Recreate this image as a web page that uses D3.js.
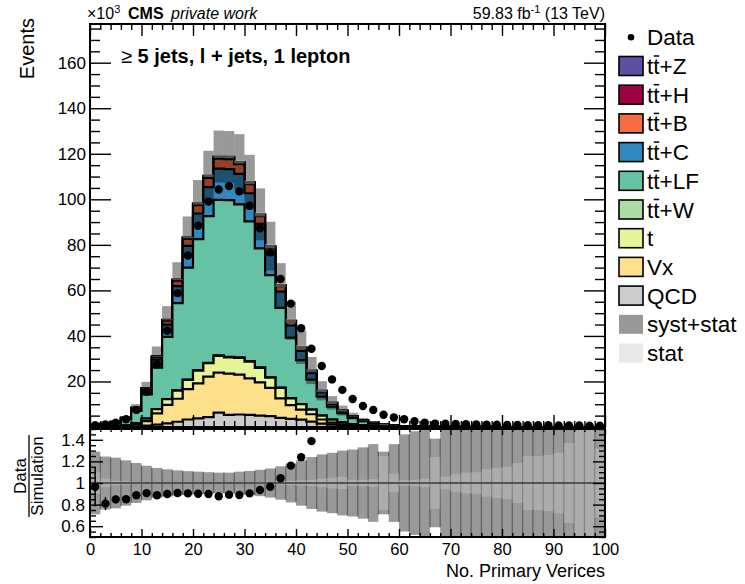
<!DOCTYPE html>
<html>
<head>
<meta charset="utf-8">
<script src="https://cdn.jsdelivr.net/npm/d3@7"></script>
<style>
  body { margin: 0; background: #fff; }
  svg { display: block; font-family: "Liberation Sans", Arial, sans-serif; }
</style>
</head>
<body>
<div id="pvPlot"></div>
<script>
// bins: 0-2, 2-4, ... 98-100 (50 bins), values in units of 10^3 events
const binEdges = d3.range(0, 101, 2);

const qcd  = [0.02,0.03,0.06,0.12,0.3,0.6,1.0,1.6,2.3,3.3,3.8,4.3,6.3,5.3,5.5,5.3,5.0,4.8,4.0,3.6,3.2,2.4,1.5,1.0,0.7,0.4,0.25,0.15,0.1,0.06,0.04,0.03,0.02,0.01,0.006,0,0,0,0,0,0,0,0,0,0,0,0,0,0,0];
const vx   = [0.04,0.07,0.16,0.33,0.8,2.0,5.0,8.1,10.1,13.3,15.4,17.8,17.6,18.1,17.5,16.1,14.6,12.4,8.6,6.0,4.4,3.2,1.8,0.9,0.5,0.4,0.25,0.15,0.08,0.05,0.03,0.02,0.01,0.008,0.005,0,0,0,0,0,0,0,0,0,0,0,0,0,0,0];
const tSingle = [0.03,0.06,0.11,0.23,0.5,1.1,1.8,2.5,3.6,4.1,5.6,5.9,7.3,7.2,7.4,7.3,6.4,4.5,4.6,3.0,2.4,2.0,1.7,1.3,0.8,0.5,0.3,0.2,0.12,0.07,0.04,0.02,0.015,0.01,0.006,0,0,0,0,0,0,0,0,0,0,0,0,0,0,0];
const ttW  = [0,0,0,0.01,0.02,0.03,0.06,0.09,0.13,0.17,0.2,0.22,0.24,0.24,0.23,0.22,0.19,0.16,0.12,0.09,0.07,0.05,0.03,0.02,0.01,0.01,0.005,0.003,0.002,0.001,0,0,0,0,0,0,0,0,0,0,0,0,0,0,0,0,0,0,0,0];
const ttLF = [0.61,0.98,1.55,2.67,5.49,10.63,18.18,27.27,38.3,49.11,57.49,64.43,68.35,68.79,67.14,61.39,52.27,44.84,35.01,26.53,19.33,13.18,8.32,5.68,4.03,2.72,1.71,1.01,0.54,0.32,0.21,0.14,0.09,0.066,0.045,0.035,0.025,0.018,0.012,0.008,0.006,0.004,0.003,0.002,0.0015,0.001,0.001,0.0008,0.0006,0.0005];
const ttC  = [0.10,0.16,0.26,0.46,0.97,1.97,3.57,5.42,7.45,9.58,11.29,12.68,13.66,13.64,13.39,12.36,10.74,9.13,7.16,5.37,4.03,2.85,1.83,1.22,0.83,0.55,0.35,0.21,0.12,0.07,0.044,0.029,0.018,0.013,0.008,0.006,0.004,0.003,0.002,0.0015,0.001,0.0007,0.0005,0.0004,0.0003,0.0002,0.0002,0.0001,0.0001,0.0001];
const ttB  = [0.03,0.05,0.08,0.15,0.31,0.63,1.15,1.74,2.40,3.08,3.63,4.08,4.40,4.39,4.31,3.98,3.46,2.94,2.31,1.73,1.30,0.92,0.59,0.39,0.27,0.18,0.11,0.07,0.04,0.02,0.014,0.009,0.006,0.004,0.003,0.002,0.001,0.001,0.001,0,0,0,0,0,0,0,0,0,0,0];
const ttH  = [0,0.01,0.01,0.02,0.04,0.09,0.16,0.24,0.32,0.42,0.49,0.55,0.59,0.59,0.58,0.54,0.47,0.40,0.31,0.23,0.18,0.12,0.08,0.05,0.04,0.02,0.015,0.01,0.005,0.003,0,0,0,0,0,0,0,0,0,0,0,0,0,0,0,0,0,0,0,0];
const ttZ  = [0,0,0.01,0.01,0.03,0.05,0.09,0.14,0.19,0.25,0.29,0.33,0.36,0.36,0.35,0.32,0.28,0.24,0.19,0.14,0.11,0.07,0.05,0.03,0.02,0.01,0.01,0.005,0.003,0.002,0,0,0,0,0,0,0,0,0,0,0,0,0,0,0,0,0,0,0,0];

const dataCounts = [0.8,1.1,1.9,3.4,7.5,15.5,27.5,42.3,58.8,75.3,88.4,99.0,104.3,105.8,103.5,97.2,87.3,76.7,65.0,54.2,43.4,34.4,26.8,20.9,16.3,12.3,9.2,7.5,5.4,4.2,3.4,2.5,1.9,1.5,1.4,1.3,1.2,1.1,1.0,1.0,0.9,0.9,0.8,0.8,0.8,0.7,0.7,0.7,0.6,0.6];
const ratioErr = [0.18,0.06,0.035,0.025,0.015,0.01,0.008,0.007,0.006,0.005,0.005,0.005,0.005,0.005,0.005,0.005,0.005,0.006,0.008,0.01,0.015,0.02,0.03,0.04,0.05,0.06,0.07,0.08,0.1,0.1,0.1,0.1,0.1,0.1,0.1,0.1,0.1,0.1,0.1,0.1,0.1,0.1,0.1,0.1,0.1,0.1,0.1,0.1,0.1,0.1];

// relative uncertainties of the prediction
const systStatRel = [0.29,0.245,0.235,0.21,0.185,0.16,0.14,0.127,0.117,0.11,0.105,0.10,0.096,0.096,0.105,0.112,0.122,0.135,0.155,0.18,0.21,0.24,0.265,0.28,0.30,0.31,0.33,0.36,0.29,0.36,0.45,0.48,0.55,0.41,0.6,0.6,0.6,0.6,0.6,0.6,0.6,0.6,0.6,0.6,0.6,0.6,0.6,0.6,0.6,0.6];
const statRel = [0.10,0.04,0.02,0.015,0.01,0.008,0.006,0.005,0.005,0.005,0.005,0.005,0.005,0.005,0.006,0.008,0.01,0.012,0.015,0.02,0.025,0.03,0.04,0.05,0.056,0.03,0.03,0.035,0.25,0.086,0.025,0.03,0.04,0.24,0.06,0.08,0.096,0.10,0.127,0.14,0.15,0.185,0.25,0.25,0.26,0.28,0.37,0.6,0.6,0.32];

const samples = [
  { name: "QCD",   values: qcd,     color: "#cccccc" },
  { name: "Vx",    values: vx,      color: "#fee08b" },
  { name: "t",     values: tSingle, color: "#e6f598" },
  { name: "tt+W",  values: ttW,     color: "#abdda4" },
  { name: "tt+LF", values: ttLF,    color: "#66c2a5" },
  { name: "tt+C",  values: ttC,     color: "#3288bd" },
  { name: "tt+B",  values: ttB,     color: "#f46d43" },
  { name: "tt+H",  values: ttH,     color: "#9e0142" },
  { name: "tt+Z",  values: ttZ,     color: "#5e4fa2" }
];

class PrimaryVertexPlot {
  constructor() {
    this.width = 745;
    this.height = 584;
    this.left = 90;
    this.right = 605;
    this.mainTop = 24;
    this.mainBottom = 427;
    this.ratioTop = 429;
    this.ratioBottom = 537;
  }

  createVisualization() {
    const svg = d3.select("#pvPlot")
      .append("svg")
      .attr("width", this.width)
      .attr("height", this.height);
    this.svg = svg;

    const x = d3.scaleLinear().domain([0, 100]).range([this.left, this.right]);
    const y = d3.scaleLinear().domain([0, 177]).range([this.mainBottom, this.mainTop]);
    const yr = d3.scaleLinear().domain([0.5, 1.5]).range([this.ratioBottom, this.ratioTop]);

    const defs = svg.append("defs");
    defs.append("clipPath").attr("id", "clipMain").append("rect")
      .attr("x", this.left).attr("y", this.mainTop)
      .attr("width", this.right - this.left).attr("height", this.mainBottom - this.mainTop);
    defs.append("clipPath").attr("id", "clipRatio").append("rect")
      .attr("x", this.left).attr("y", this.ratioTop)
      .attr("width", this.right - this.left).attr("height", this.ratioBottom - this.ratioTop);

    // cumulative stack
    const nBins = dataCounts.length;
    let running = new Array(nBins).fill(0);
    const cumulative = samples.map(s => {
      running = running.map((v, i) => v + s.values[i]);
      return { ...s, top: running.slice() };
    });
    const total = running;

    const main = svg.append("g").attr("clip-path", "url(#clipMain)");
    const area = d3.area()
      .x(d => x(d.x))
      .y0(y(0))
      .y1(d => y(d.v))
      .curve(d3.curveStepAfter);

    // biggest first, so every lower layer is painted on top
    cumulative.slice().reverse().forEach(layer => {
      const pts = layer.top.map((v, i) => ({ x: binEdges[i], v }));
      pts.push({ x: 100, v: layer.top[nBins - 1] });
      main.append("path")
        .datum(pts)
        .attr("d", area)
        .attr("fill", layer.color)
        .attr("stroke", "#000")
        .attr("stroke-width", 2.2)
        .attr("stroke-linejoin", "miter");
    });

    // uncertainty band on the prediction
    const bins = total.map((t, i) => ({ i, t, lo: binEdges[i], hi: binEdges[i + 1] }));
    main.selectAll("rect.syst").data(bins).enter().append("rect")
      .attr("class", "syst")
      .attr("x", d => x(d.lo)).attr("width", d => x(d.hi) - x(d.lo))
      .attr("y", d => y(d.t * (1 + systStatRel[d.i])))
      .attr("height", d => y(d.t * (1 - systStatRel[d.i])) - y(d.t * (1 + systStatRel[d.i])))
      .attr("fill", "rgba(0,0,0,0.4)");
    main.selectAll("rect.stat").data(bins).enter().append("rect")
      .attr("class", "stat")
      .attr("x", d => x(d.lo)).attr("width", d => x(d.hi) - x(d.lo))
      .attr("y", d => y(d.t * (1 + statRel[d.i])))
      .attr("height", d => y(d.t * (1 - statRel[d.i])) - y(d.t * (1 + statRel[d.i])))
      .attr("fill", "rgba(200,200,200,0.4)");

    main.selectAll("circle.data").data(dataCounts).enter().append("circle")
      .attr("class", "data")
      .attr("cx", (d, i) => x(binEdges[i] + 1))
      .attr("cy", d => y(d))
      .attr("r", 4.2)
      .attr("fill", "#000");

    // ratio panel
    const ratio = svg.append("g").attr("clip-path", "url(#clipRatio)");
    ratio.selectAll("rect.syst").data(bins).enter().append("rect")
      .attr("x", d => x(d.lo)).attr("width", d => x(d.hi) - x(d.lo))
      .attr("y", d => yr(1 + systStatRel[d.i]))
      .attr("height", d => yr(1 - systStatRel[d.i]) - yr(1 + systStatRel[d.i]))
      .attr("fill", "rgba(0,0,0,0.4)");
    ratio.selectAll("line.edge").data(bins.slice(1)).enter().append("line")
      .attr("x1", d => x(d.lo)).attr("x2", d => x(d.lo))
      .attr("y1", d => yr(1 + Math.min(systStatRel[d.i], systStatRel[d.i - 1])))
      .attr("y2", d => yr(1 - Math.min(systStatRel[d.i], systStatRel[d.i - 1])))
      .attr("stroke", "rgba(40,40,40,0.55)")
      .attr("stroke-width", 1.2);
    ratio.selectAll("rect.stat").data(bins).enter().append("rect")
      .attr("x", d => x(d.lo)).attr("width", d => x(d.hi) - x(d.lo))
      .attr("y", d => yr(1 + statRel[d.i]))
      .attr("height", d => yr(1 - statRel[d.i]) - yr(1 + statRel[d.i]))
      .attr("fill", "rgba(200,200,200,0.4)");
    ratio.append("line")
      .attr("x1", this.left).attr("x2", this.right)
      .attr("y1", yr(1)).attr("y2", yr(1))
      .attr("stroke", "#3a3a3a").attr("stroke-width", 1.6);

    const ratioPts = dataCounts.map((d, i) => ({ i, r: d / total[i], e: ratioErr[i] }))
      .filter(p => p.r < 1.5 && p.r > 0.5);
    ratio.selectAll("line.err").data(ratioPts).enter().append("line")
      .attr("x1", d => x(binEdges[d.i] + 1)).attr("x2", d => x(binEdges[d.i] + 1))
      .attr("y1", d => yr(d.r - d.e)).attr("y2", d => yr(d.r + d.e))
      .attr("stroke", "#000").attr("stroke-width", 1.5);
    ratio.selectAll("circle").data(ratioPts).enter().append("circle")
      .attr("cx", d => x(binEdges[d.i] + 1))
      .attr("cy", d => yr(d.r))
      .attr("r", 4.2)
      .attr("fill", "#000");

    this.drawAxes(x, y, yr);
    this.drawTexts();
    this.drawLegend();
  }

  tickAxis(axis, transform, fontSize) {
    const g = this.svg.append("g")
      .attr("transform", transform)
      .call(axis);
    g.select(".domain").remove();
    g.selectAll(".tick line").attr("stroke", "#000").attr("stroke-width", 1.4);
    g.selectAll("text")
      .attr("fill", "#000")
      .style("font-size", fontSize + "px")
      .style("font-family", '"Liberation Sans", Arial, sans-serif');
    return g;
  }

  drawAxes(x, y, yr) {
    const xMajor = d3.range(0, 101, 10);
    const xMinor = d3.range(0, 101, 2).filter(v => v % 10 !== 0);
    const yMajor = d3.range(20, 161, 20);
    const yMinor = d3.range(5, 177, 5).filter(v => v % 20 !== 0);
    const rMajor = [0.6, 0.8, 1.0, 1.2, 1.4];
    const rMinor = d3.range(0.5, 1.501, 0.05).filter(v => !rMajor.some(m => Math.abs(m - v) < 1e-6));
    const none = () => "";

    // main pad
    this.tickAxis(d3.axisLeft(y).tickValues(yMajor).tickSize(-21).tickPadding(4).tickFormat(d3.format("d")),
      `translate(${this.left},0)`, 17);
    this.tickAxis(d3.axisLeft(y).tickValues(yMinor).tickSize(-10).tickFormat(none), `translate(${this.left},0)`, 10);
    this.tickAxis(d3.axisRight(y).tickValues(yMajor).tickSize(-21).tickFormat(none), `translate(${this.right},0)`, 10);
    this.tickAxis(d3.axisRight(y).tickValues(yMinor).tickSize(-10).tickFormat(none), `translate(${this.right},0)`, 10);
    this.tickAxis(d3.axisTop(x).tickValues(xMajor).tickSize(-12).tickFormat(none), `translate(0,${this.mainTop})`, 10);
    this.tickAxis(d3.axisTop(x).tickValues(xMinor).tickSize(-6).tickFormat(none), `translate(0,${this.mainTop})`, 10);
    this.tickAxis(d3.axisBottom(x).tickValues(xMajor).tickSize(-12).tickFormat(none), `translate(0,${this.mainBottom})`, 10);
    this.tickAxis(d3.axisBottom(x).tickValues(xMinor).tickSize(-6).tickFormat(none), `translate(0,${this.mainBottom})`, 10);

    // ratio pad
    this.tickAxis(d3.axisLeft(yr).tickValues(rMajor).tickSize(-13).tickPadding(5)
      .tickFormat(d => Math.abs(d - 1) < 1e-6 ? "1" : d3.format(".1f")(d)), `translate(${this.left},0)`, 17);
    this.tickAxis(d3.axisLeft(yr).tickValues(rMinor).tickSize(-6).tickFormat(none), `translate(${this.left},0)`, 10);
    this.tickAxis(d3.axisRight(yr).tickValues(rMajor).tickSize(-12).tickFormat(none), `translate(${this.right},0)`, 10);
    this.tickAxis(d3.axisRight(yr).tickValues(rMinor).tickSize(-6).tickFormat(none), `translate(${this.right},0)`, 10);
    this.tickAxis(d3.axisBottom(x).tickValues(xMajor).tickSize(-8).tickPadding(6).tickFormat(d3.format("d")),
      `translate(0,${this.ratioBottom})`, 16.5);
    this.tickAxis(d3.axisBottom(x).tickValues(xMinor).tickSize(-4).tickFormat(none), `translate(0,${this.ratioBottom})`, 10);
    this.tickAxis(d3.axisTop(x).tickValues(xMajor).tickSize(-6).tickFormat(none), `translate(0,${this.ratioTop})`, 10);
    this.tickAxis(d3.axisTop(x).tickValues(xMinor).tickSize(-3).tickFormat(none), `translate(0,${this.ratioTop})`, 10);

    // frames
    [[this.mainTop, this.mainBottom], [this.ratioTop, this.ratioBottom]].forEach(([t, b]) => {
      this.svg.append("rect")
        .attr("x", this.left).attr("y", t)
        .attr("width", this.right - this.left).attr("height", b - t)
        .attr("fill", "none").attr("stroke", "#000").attr("stroke-width", 2);
    });
  }

  drawTexts() {
    const svg = this.svg;

    const e = svg.append("text").attr("x", 87).attr("y", 19).style("font-size", "16px");
    e.append("tspan").text("×10");
    e.append("tspan").attr("dy", -6).style("font-size", "11px").text("3");

    svg.append("text").attr("x", 128).attr("y", 19)
      .style("font-size", "16px").style("font-weight", "bold").text("CMS");
    svg.append("text").attr("x", 171).attr("y", 19)
      .style("font-size", "16px").style("font-style", "italic").text("private work");

    const lumi = svg.append("text").attr("x", 605).attr("y", 19)
      .attr("text-anchor", "end").style("font-size", "16px");
    lumi.append("tspan").text("59.83 fb");
    lumi.append("tspan").attr("dy", -6).style("font-size", "11px").text("-1");
    lumi.append("tspan").attr("dy", 6).text(" (13 TeV)");

    const sel = svg.append("text").attr("x", 121).attr("y", 63)
      .style("font-size", "20px").style("font-weight", "bold");
    sel.append("tspan").style("font-weight", "normal").text("≥ ");
    sel.append("tspan").text("5 jets, l + jets, 1 lepton");

    svg.append("text")
      .attr("transform", "translate(34,18) rotate(-90)")
      .attr("text-anchor", "end")
      .style("font-size", "20px")
      .text("Events");

    const rl = svg.append("g").attr("transform", "translate(29,476) rotate(-90)");
    rl.append("text").attr("x", 0).attr("y", -3).attr("text-anchor", "middle")
      .style("font-size", "17px").text("Data");
    rl.append("line").attr("x1", -41).attr("x2", 41).attr("y1", 0).attr("y2", 0)
      .attr("stroke", "#000").attr("stroke-width", 1.3);
    rl.append("text").attr("x", 0).attr("y", 14).attr("text-anchor", "middle")
      .style("font-size", "17px").text("Simulation");

    svg.append("text").attr("x", 605).attr("y", 577)
      .attr("text-anchor", "end").style("font-size", "18px")
      .text("No. Primary Verices");
  }

  drawLegend() {
    const rowY = i => 37.3 + i * 28.7;
    const entries = [{ name: "Data", kind: "dot" }]
      .concat(samples.slice().reverse().map(s => ({ name: s.name, kind: "box", color: s.color })))
      .concat([{ name: "syst+stat", kind: "band", color: "rgba(0,0,0,0.4)" },
               { name: "stat", kind: "band", color: "rgba(200,200,200,0.4)" }]);

    const g = this.svg.append("g");
    entries.forEach((d, i) => {
      const cy = rowY(i);
      if (d.kind === "dot") {
        g.append("circle").attr("cx", 631).attr("cy", cy).attr("r", 3.3).attr("fill", "#000");
      } else {
        g.append("rect")
          .attr("x", 619).attr("y", cy - 9.5).attr("width", 24).attr("height", 19)
          .attr("fill", d.color)
          .attr("stroke", d.kind === "box" ? "#000" : "none")
          .attr("stroke-width", 1.6);
      }
      const label = g.append("text")
        .attr("x", 647).attr("y", cy + 8)
        .style("font-size", "22.5px")
        .text(d.name);
      if (d.name.startsWith("tt")) {
        const node = label.node();
        const a = node.getStartPositionOfChar(1).x;
        const b = node.getEndPositionOfChar(1).x;
        g.append("line")
          .attr("x1", a + 0.5).attr("x2", b - 0.3)
          .attr("y1", cy + 8 - 18).attr("y2", cy + 8 - 18)
          .attr("stroke", "#000").attr("stroke-width", 1.5);
      }
    });
  }
}

try {
  new PrimaryVertexPlot().createVisualization();
} catch (error) {
  console.error("Error creating visualization:", error);
}
</script>
</body>
</html>
